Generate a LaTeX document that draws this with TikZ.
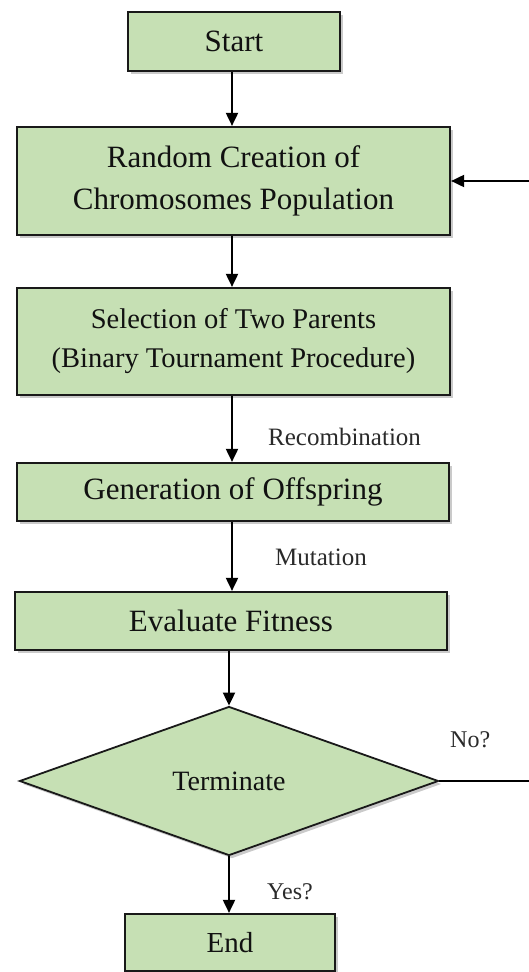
\documentclass[tikz,border=0pt]{standalone}
\usepackage{fontspec}
\setmainfont{Liberation Serif}
\usetikzlibrary{shapes.geometric,arrows.meta,shadows}
\definecolor{boxgreen}{HTML}{C6E0B4}
\definecolor{txtdark}{HTML}{111111}
\definecolor{lbl}{HTML}{2A2A2A}
\tikzset{
  fcbox/.style={draw=black!90, line width=2.2pt, fill=boxgreen, text=txtdark, align=center, inner sep=0pt,
    drop shadow={shadow xshift=3pt, shadow yshift=-3pt, opacity=0.35, fill=black!60}},
  fcarrow/.style={draw=black, line width=1.9pt, -{Triangle[length=13pt,width=12pt]}},
  fclabel/.style={anchor=west, text=lbl, inner sep=0pt, font=\fontsize{25}{30}\selectfont},
  bigtxt/.style={font=\fontsize{31}{42}\selectfont},
}
\begin{document}
\begin{tikzpicture}[x=1pt,y=-1pt]
\useasboundingbox (0,0) rectangle (529,972);
\clip (0,0) rectangle (529,972);
\node[fcbox, bigtxt, minimum width=212pt, minimum height=59pt] (start) at (234,41.5) {Start};
\node[fcbox, bigtxt, minimum width=433pt, minimum height=108pt] (random) at (233.5,181) {Random Creation of\\Chromosomes Population};
\node[fcbox, font=\fontsize{28.5}{39}\selectfont, minimum width=433pt, minimum height=107pt] (select) at (233.5,341.5) {Selection of Two Parents\\(Binary Tournament Procedure)};
\node[fcbox, bigtxt, minimum width=432pt, minimum height=58pt] (gen) at (233,492) {Generation of Offspring};
\node[fcbox, bigtxt, minimum width=432pt, minimum height=58pt] (eval) at (231,621) {Evaluate Fitness};
\node[fcbox, diamond, line width=1.8pt, font=\fontsize{28}{34}\selectfont, minimum width=419pt, minimum height=149pt] (term) at (229,781) {Terminate};
\node[fcbox, font=\fontsize{29}{34}\selectfont, minimum width=210pt, minimum height=57pt] (endn) at (230,942.5) {End};
\coordinate (fbcorner) at (560,781);

\draw[fcarrow] ([xshift=-2pt]start.south) -- ([xshift=-2pt]start.south |- random.north);
\draw[fcarrow] ([xshift=-1.5pt]random.south) -- ([xshift=-1.5pt]random.south |- select.north);
\draw[fcarrow] ([xshift=-1.5pt]select.south) -- ([xshift=-1.5pt]select.south |- gen.north);
\draw[fcarrow] ([xshift=-1pt]gen.south) -- ([xshift=-1pt]gen.south |- eval.north);
\draw[fcarrow] (eval.south -| term.north) -- (term.north);
\draw[fcarrow] (term.south) -- (term.south |- endn.north);
\draw[fcarrow] (term.east) -- (fbcorner) |- (random.east);

\node[fclabel] (lrec) at (268,437) {Recombination};
\node[fclabel] (lmut) at (275,557) {Mutation};
\node[fclabel, font=\fontsize{24}{30}\selectfont] (lno) at (450,740) {No?};
\node[fclabel, font=\fontsize{24}{30}\selectfont] (lyes) at (267,892) {Yes?};
\end{tikzpicture}
\end{document}
